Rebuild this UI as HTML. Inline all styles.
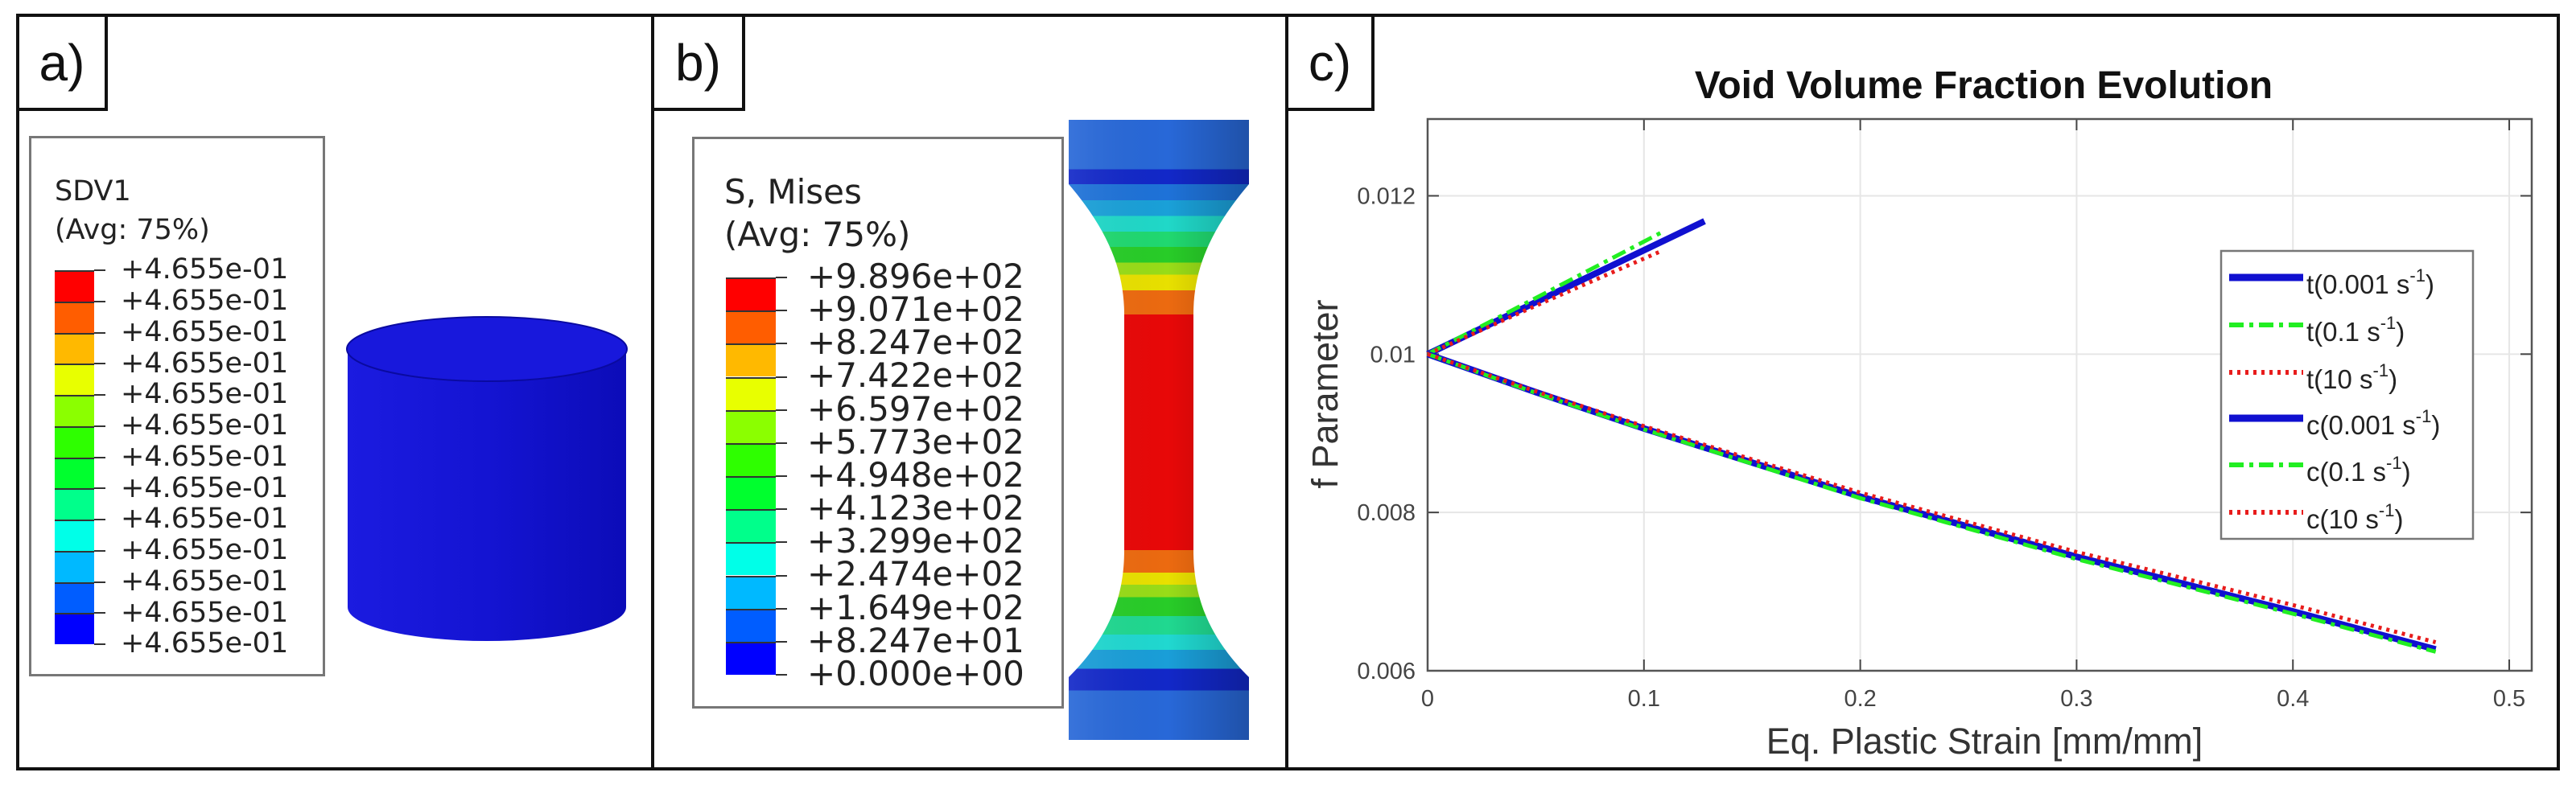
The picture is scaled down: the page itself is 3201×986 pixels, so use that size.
<!DOCTYPE html>
<html><head><meta charset="utf-8">
<style>
html,body{margin:0;padding:0;background:#fff;}
body{width:3201px;height:986px;position:relative;overflow:hidden;font-family:"Liberation Sans",sans-serif;}
.abs{position:absolute;}
.lbl{position:absolute;border:4px solid #111;box-sizing:border-box;background:#fff;font-family:"Liberation Sans",sans-serif;font-size:64px;line-height:1;display:flex;align-items:center;justify-content:center;color:#111;}
.ab{font-family:"DejaVu Sans","Liberation Sans",sans-serif;color:#222;white-space:nowrap;}
</style></head>
<body>
<div class="abs" style="left:20px;top:17px;width:3161px;height:941px;border:4px solid #111;box-sizing:border-box;"></div>
<div class="abs" style="left:809px;top:17px;width:4px;height:941px;background:#111;"></div>
<div class="abs" style="left:1597px;top:17px;width:4px;height:941px;background:#111;"></div>
<div class="lbl" style="left:20px;top:17px;width:114px;height:121px;">a)</div>
<div class="lbl" style="left:809px;top:17px;width:117px;height:121px;">b)</div>
<div class="lbl" style="left:1597px;top:17px;width:111px;height:121px;">c)</div>

<div class="abs" style="left:36px;top:169px;width:368px;height:672px;border:3px solid #777;box-sizing:border-box;"></div>
<div class="abs ab" style="left:68px;top:218px;font-size:35px;">SDV1</div>
<div class="abs ab" style="left:68px;top:266px;font-size:35px;">(Avg: 75%)</div>

<svg class="abs" style="left:0;top:0" width="810" height="986">
  <defs><linearGradient id="cylg" x1="0" x2="1" y1="0" y2="0">
    <stop offset="0" stop-color="#1b1be0"/><stop offset="0.5" stop-color="#1414d2"/><stop offset="1" stop-color="#0c0cb8"/></linearGradient></defs>
  <path d="M432 434 L432 755 A173 42 0 0 0 778 755 L778 434 Z" fill="url(#cylg)"/>
  <ellipse cx="605" cy="434" rx="174" ry="40" fill="#1818dc" stroke="#0a0aa0" stroke-width="2"/>
</svg>

<div class="abs" style="left:860px;top:170px;width:462px;height:711px;border:3px solid #777;box-sizing:border-box;"></div>
<div class="abs ab" style="left:900px;top:214px;font-size:42px;">S, Mises</div>
<div class="abs ab" style="left:900px;top:267px;font-size:42px;">(Avg: 75%)</div>

<svg class="abs" style="left:0;top:0" width="1597" height="986">
  <defs>
    <linearGradient id="dbv" x1="0" x2="0" y1="149" y2="920" gradientUnits="userSpaceOnUse">
      <stop offset="0" stop-color="#2868d8"/><stop offset="0.08" stop-color="#2868d8"/>
      <stop offset="0.08" stop-color="#1228c8"/><stop offset="0.104" stop-color="#1228c8"/>
      <stop offset="0.104" stop-color="#1e72d8"/><stop offset="0.13" stop-color="#1e72d8"/>
      <stop offset="0.13" stop-color="#1aa0d8"/><stop offset="0.155" stop-color="#1aa0d8"/>
      <stop offset="0.155" stop-color="#20d8c8"/><stop offset="0.18" stop-color="#20d8c8"/>
      <stop offset="0.18" stop-color="#20d870"/><stop offset="0.205" stop-color="#20d870"/>
      <stop offset="0.205" stop-color="#28cc28"/><stop offset="0.23" stop-color="#28cc28"/>
      <stop offset="0.23" stop-color="#98dc18"/><stop offset="0.25" stop-color="#98dc18"/>
      <stop offset="0.25" stop-color="#e8e000"/><stop offset="0.275" stop-color="#e8e000"/>
      <stop offset="0.275" stop-color="#ec6a10"/><stop offset="0.314" stop-color="#ec6a10"/>
      <stop offset="0.314" stop-color="#e80808"/><stop offset="0.694" stop-color="#e80808"/>
      <stop offset="0.694" stop-color="#ec6a10"/><stop offset="0.73" stop-color="#ec6a10"/>
      <stop offset="0.73" stop-color="#e8e000"/><stop offset="0.75" stop-color="#e8e000"/>
      <stop offset="0.75" stop-color="#98dc18"/><stop offset="0.77" stop-color="#98dc18"/>
      <stop offset="0.77" stop-color="#28cc28"/><stop offset="0.8" stop-color="#28cc28"/>
      <stop offset="0.8" stop-color="#20d890"/><stop offset="0.83" stop-color="#20d890"/>
      <stop offset="0.83" stop-color="#20d8d0"/><stop offset="0.855" stop-color="#20d8d0"/>
      <stop offset="0.855" stop-color="#1a9ed8"/><stop offset="0.885" stop-color="#1a9ed8"/>
      <stop offset="0.885" stop-color="#1228c8"/><stop offset="0.92" stop-color="#1228c8"/>
      <stop offset="0.92" stop-color="#2868d8"/><stop offset="1" stop-color="#2868d8"/>
    </linearGradient>
    <linearGradient id="dbh" x1="0" x2="1" y1="0" y2="0">
      <stop offset="0" stop-color="#fff" stop-opacity="0.08"/><stop offset="0.55" stop-color="#000" stop-opacity="0"/><stop offset="1" stop-color="#000" stop-opacity="0.22"/></linearGradient>
  </defs>
  <path d="M1328 149 L1552 149 L1552 229 C1500 290 1483 340 1483 391 L1483 684 C1483 740 1500 790 1552 842 L1552 920 L1328 920 L1328 842 C1380 790 1397 740 1397 684 L1397 391 C1397 340 1380 290 1328 229 Z" fill="url(#dbv)"/>
  <path d="M1328 149 L1552 149 L1552 229 C1500 290 1483 340 1483 391 L1483 684 C1483 740 1500 790 1552 842 L1552 920 L1328 920 L1328 842 C1380 790 1397 740 1397 684 L1397 391 C1397 340 1380 290 1328 229 Z" fill="url(#dbh)"/>
</svg>

<svg id="chart" class="abs" style="left:0;top:0" width="3201" height="986"></svg>

<script>
const bandColors = ["#0000ff","#005dff","#00b9ff","#00ffe8","#00ff8b","#00ff2e","#2eff00","#8bff00","#e8ff00","#ffb900","#ff5d00","#ff0000"];
const sdvLabels = ["+4.655e-01","+4.655e-01","+4.655e-01","+4.655e-01","+4.655e-01","+4.655e-01","+4.655e-01","+4.655e-01","+4.655e-01","+4.655e-01","+4.655e-01","+4.655e-01","+4.655e-01"];
const misesLabels = ["+9.896e+02","+9.071e+02","+8.247e+02","+7.422e+02","+6.597e+02","+5.773e+02","+4.948e+02","+4.123e+02","+3.299e+02","+2.474e+02","+1.649e+02","+8.247e+01","+0.000e+00"];

function colorBar(host, x, y0, y1, w, labels, lx, fs, prefix){
  const n = bandColors.length, h = (y1-y0)/n;
  for(let i=0;i<n;i++){
    const d=document.createElement('div');
    
    
    d.style.cssText=`position:absolute;left:${x}px;top:${y0+i*h}px;width:${w}px;height:${h}px;background:${bandColors[n-1-i]};border-top:2px solid #333;box-sizing:border-box;`;
    host.appendChild(d);
  }
  labels.forEach((t,i)=>{
    const yy=y0+i*h;
    const tk=document.createElement('div');
    
    
    tk.style.cssText=`position:absolute;left:${x+w}px;top:${yy-1}px;width:14px;height:2px;background:#333;`;
    host.appendChild(tk);
    const l=document.createElement('div');
    
    
    l.className='ab';
    l.style.cssText=`position:absolute;left:${lx}px;top:${yy-fs*0.62}px;font-size:${fs}px;line-height:1.2;`;
    l.textContent=t;
    host.appendChild(l);
  });
}
colorBar(document.body, 68, 336, 801, 49, sdvLabels, 150, 35, 'sdv1');
colorBar(document.body, 902, 345, 839, 62, misesLabels, 1003, 42, 'mises');

const xTicks = [0,0.1,0.2,0.3,0.4,0.5];
const xTickLabels = ["0","0.1","0.2","0.3","0.4","0.5"];
const yTicks = [0.006,0.008,0.01,0.012];
const yTickLabels = ["0.006","0.008","0.01","0.012"];
const seriesNames = ["t(0.001 s","t(0.1 s","t(10 s","c(0.001 s","c(0.1 s","c(10 s"];
const t001X = [0,0.064,0.128];
const t001Y = [0.01,0.01084,0.01168];
const t01X = [0,0.055,0.109];
const t01Y = [0.01,0.01078,0.01155];
const t10X = [0,0.054,0.107];
const t10Y = [0.01,0.01066,0.01129];
const c001X = [0,0.05,0.1,0.2,0.3,0.4,0.466];
const c001Y = [0.01,0.00952,0.00906,0.0082,0.00744,0.00675,0.00627];
const c01X = [0,0.05,0.1,0.2,0.3,0.4,0.466];
const c01Y = [0.01,0.00951,0.00905,0.00818,0.00741,0.00672,0.00624];
const c10X = [0,0.05,0.1,0.2,0.3,0.4,0.466];
const c10Y = [0.01,0.00953,0.00909,0.00825,0.0075,0.00683,0.00636];

const L=1774,R=3146,T=148,B=834, XMAX=0.5104, YMIN=0.006, YMAX=0.01297;
const sx=v=>L+(v/XMAX)*(R-L);
const sy=v=>B-(v-YMIN)/(YMAX-YMIN)*(B-T);
const NS='http://www.w3.org/2000/svg';
const svg=document.getElementById('chart');
function mk(tag,attrs,parent){const e=document.createElementNS(NS,tag);for(const k in attrs)e.setAttribute(k,attrs[k]);(parent||svg).appendChild(e);return e;}

const title=mk('text',{x:2465,y:122,'text-anchor':'middle','font-size':48,'font-weight':'bold','font-family':'Liberation Sans, sans-serif',fill:'#111'});


title.textContent='Void Volume Fraction Evolution';

xTicks.forEach((v,i)=>{
  const g=mk('line',{x1:sx(v),x2:sx(v),y1:T,y2:B,stroke:'#e6e6e6','stroke-width':2});
  
  
  const tk=mk('line',{x1:sx(v),x2:sx(v),y1:B,y2:B-14,stroke:'#444','stroke-width':2});
  
  
  const tk2=mk('line',{x1:sx(v),x2:sx(v),y1:T,y2:T+14,stroke:'#444','stroke-width':2});
  
  
  const t=mk('text',{x:sx(v),y:878,'text-anchor':'middle','font-size':29,'font-family':'Liberation Sans, sans-serif',fill:'#444'});
  
  
  t.textContent=xTickLabels[i];
});
yTicks.forEach((v,i)=>{
  const g=mk('line',{x1:L,x2:R,y1:sy(v),y2:sy(v),stroke:'#e6e6e6','stroke-width':2});
  
  
  const tk=mk('line',{x1:L,x2:L+14,y1:sy(v),y2:sy(v),stroke:'#444','stroke-width':2});
  
  
  const tk2=mk('line',{x1:R,x2:R-14,y1:sy(v),y2:sy(v),stroke:'#444','stroke-width':2});
  
  
  const t=mk('text',{x:1759,y:sy(v)+10,'text-anchor':'end','font-size':29,'font-family':'Liberation Sans, sans-serif',fill:'#444'});
  
  
  t.textContent=yTickLabels[i];
});
const ax=mk('rect',{x:L,y:T,width:R-L,height:B-T,fill:'none',stroke:'#555','stroke-width':2.5});



const xl=mk('text',{x:2466,y:937,'text-anchor':'middle','font-size':45,'font-family':'Liberation Sans, sans-serif',fill:'#333'});


xl.textContent='Eq. Plastic Strain [mm/mm]';
const yl=mk('text',{x:1662,y:490,'text-anchor':'middle','font-size':45,'font-family':'Liberation Sans, sans-serif',fill:'#333',transform:'rotate(-90 1662 490)'});


yl.textContent='f  Parameter';

const styles=[
 {c:'#1010d0',w:8,d:''},
 {c:'#22ee22',w:5,d:'18 7 5 7'},
 {c:'#e81c1c',w:5,d:'4 6'}
];
const series=[[t001X,t001Y,0],[t01X,t01Y,1],[t10X,t10Y,2],[c001X,c001Y,0],[c01X,c01Y,1],[c10X,c10Y,2]];
series.forEach((s,i)=>{
  const st=styles[s[2]];
  const pts=s[0].map((x,j)=>sx(x)+','+sy(s[1][j])).join(' ');
  const p=mk('polyline',{points:pts,fill:'none',stroke:st.c,'stroke-width':st.w,'stroke-dasharray':st.d});
  
  
});

const lg=mk('rect',{x:2760,y:312,width:313,height:358,fill:'#fff',stroke:'#777','stroke-width':2.5});


const ly=[345,404,463,520,578,637];
seriesNames.forEach((nm,i)=>{
  const st=styles[i%3];
  const ln=mk('line',{x1:2770,x2:2862,y1:ly[i],y2:ly[i],stroke:st.c,'stroke-width':st.w+1,'stroke-dasharray':st.d});
  
  
  const t=mk('text',{x:2866,y:ly[i]+20,'font-size':33,'font-family':'Liberation Sans, sans-serif',fill:'#222'});
  
  
  t.appendChild(document.createTextNode(nm));
  const sup=mk('tspan',{dy:-15,'font-size':22},t);
  sup.textContent='-1';
  const cl=mk('tspan',{dy:15,'font-size':33},t);
  cl.textContent=')';
});
</script>
</body></html>
